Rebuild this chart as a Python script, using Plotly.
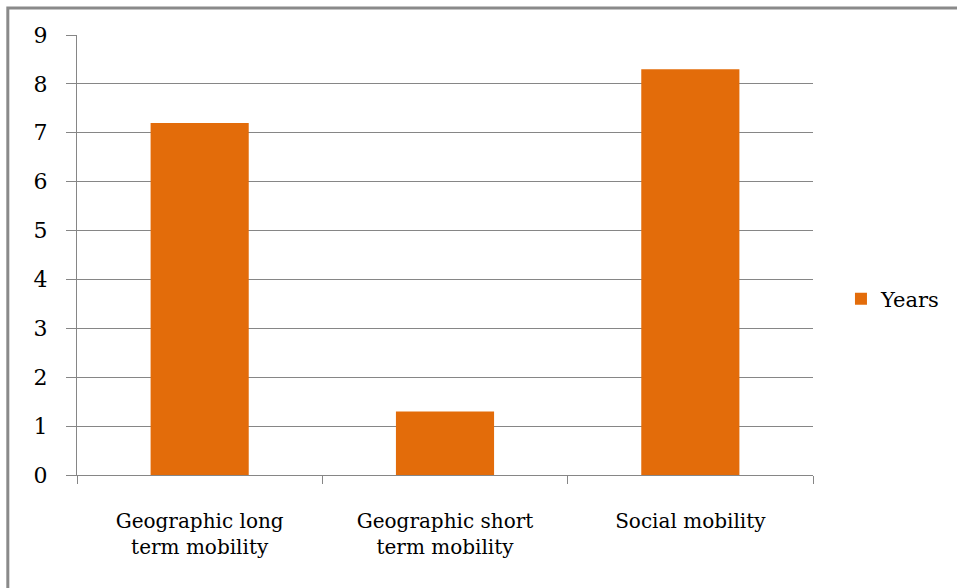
import plotly.graph_objects as go

categories = ["Geographic long<br>term mobility", "Geographic short<br>term mobility", "Social mobility"]
years = [7.2, 1.3, 8.3]
y_ticks = [0, 1, 2, 3, 4, 5, 6, 7, 8, 9]

FONT = "DejaVu Serif"
GRID = "#868686"

fig = go.Figure()
fig.add_trace(go.Bar(
    x=categories,
    y=years,
    name="Years",
    marker=dict(color="#E36C0A", line=dict(width=0)),
    width=0.4,
    showlegend=True,
))

fig.update_layout(
    width=957,
    height=588,
    margin=dict(l=77, r=144, t=35, b=113),
    paper_bgcolor="white",
    plot_bgcolor="white",
    font=dict(family=FONT, size=21, color="black"),
    showlegend=True,
    legend=dict(
        x=1.038, y=0.4, xanchor="left", yanchor="middle",
        font=dict(family=FONT, size=21, color="black"),
        itemwidth=30,
    ),
    xaxis=dict(
        showline=True, linecolor=GRID, linewidth=1.3,
        ticks="outside", tickson="boundaries", ticklen=8, tickcolor=GRID,
        showgrid=False, tickfont=dict(family=FONT, size=20),
        ticklabelstandoff=28,
    ),
    yaxis=dict(
        range=[0, 9], tickvals=y_ticks,
        showline=True, linecolor=GRID, linewidth=1.3,
        ticks="outside", ticklen=10, tickcolor=GRID,
        showgrid=True, gridcolor=GRID, gridwidth=1.3,
        zeroline=False, ticklabelstandoff=14,
        tickfont=dict(family=FONT, size=22),
    ),
    shapes=[dict(
        type="rect", xref="paper", yref="paper",
        x0=-0.094, x1=1.4, y0=-0.4, y1=1.0614,
        line=dict(color="#8a8a8a", width=3), layer="below",
    )],
)

fig.write_html("out.html")
